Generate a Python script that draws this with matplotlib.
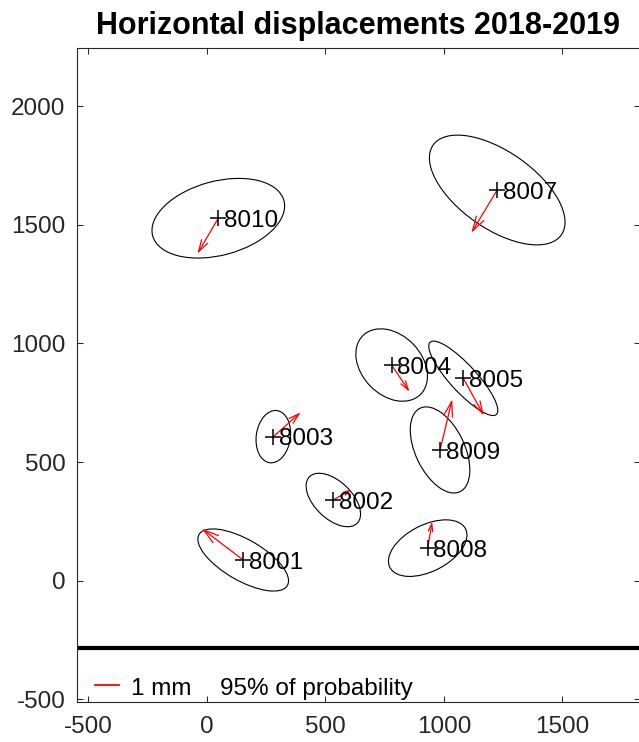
import numpy as np
import matplotlib
matplotlib.use("Agg")
from matplotlib import pyplot as plt
from matplotlib.patches import Ellipse

plt.rcParams['font.family'] = ['Liberation Sans', 'DejaVu Sans']
plt.rcParams['axes.unicode_minus'] = False

# Points (east, north), displacement vectors and 95% error ellipses
names = ['8001', '8002', '8003', '8004', '8005', '8007', '8008', '8009', '8010']
east = [154, 534, 281, 780, 1082, 1225, 932, 984, 49]
north = [87, 340, 607, 909, 853, 1647, 137, 551, 1528]
d_east = [-166, 67, 108, 70, 82, -104, 17, 49, -83]
d_north = [126, 39, 96, -105, -148, -172, 102, 204, -141]
ell_width = [430, 281, 222, 347, 413, 660, 358, 390, 573]
ell_height = [173, 157, 144, 253, 113, 325, 196, 207, 312]
ell_angle = [-30, -44, 82, -46, -47.5, -35, 27, -64.5, 15]

# Scale bar / legend
scale_x = [-470, -370]
scale_y = -440
sep_line_y = -284

xticks = [-500, 0, 500, 1000, 1500]
yticks = [-500, 0, 500, 1000, 1500, 2000]

W, H = 639, 742
fig = plt.figure(figsize=(W / 100, H / 100), dpi=100)
ax = fig.add_axes([76.7 / W, (H - 702.3) / H, (640 - 76.7) / W, (702.3 - 47.7) / H])
ax.set_xlim(-548, 1827)
ax.set_ylim(-513, 2247)

gray = '#262626'
for e, n, dx, dy, w, h, a, name in zip(east, north, d_east, d_north,
                                        ell_width, ell_height, ell_angle, names):
    ax.add_patch(Ellipse((e, n), w, h, angle=a, fill=False, ec='black', lw=0.8))
    # quiver-like arrow with open head
    tx, ty = e + dx, n + dy
    ax.plot([e, tx], [n, ty], color='red', lw=0.9)
    alpha, beta = 0.3, 0.3
    hx1 = tx - alpha * (dx + beta * dy)
    hy1 = ty - alpha * (dy - beta * dx)
    hx2 = tx - alpha * (dx - beta * dy)
    hy2 = ty - alpha * (dy + beta * dx)
    ax.plot([hx1, tx, hx2], [hy1, ty, hy2], color='red', lw=0.9)
    ax.plot(e, n, marker='+', color='black', ms=11, mew=1.1)
    ax.annotate(name, (e, n), xytext=(4, -6.2), textcoords='offset points',
                ha='left', va='baseline', fontsize=17.5, color='black')

ax.axhline(sep_line_y, color='black', lw=3)
ax.plot(scale_x, [scale_y, scale_y], color='red', lw=1.3)
ax.text(-320, -482, '1 mm', fontsize=17.5, va='baseline', ha='left')
ax.text(56, -482, '95% of probability', fontsize=17.5, va='baseline', ha='left')

ax.set_xticks(xticks)
ax.set_yticks(yticks)
ax.tick_params(direction='in', length=4.3, width=0.75, colors=gray,
               labelsize=17.5, top=True, right=True)
ax.tick_params(axis='x', pad=10)
ax.tick_params(axis='y', pad=8)
for s in ax.spines.values():
    s.set_color(gray)
    s.set_linewidth(0.8)

ax.set_title('Horizontal displacements 2018-2019', fontsize=22, fontweight='bold',
             pad=10)

plt.savefig('out.png', dpi=100)
